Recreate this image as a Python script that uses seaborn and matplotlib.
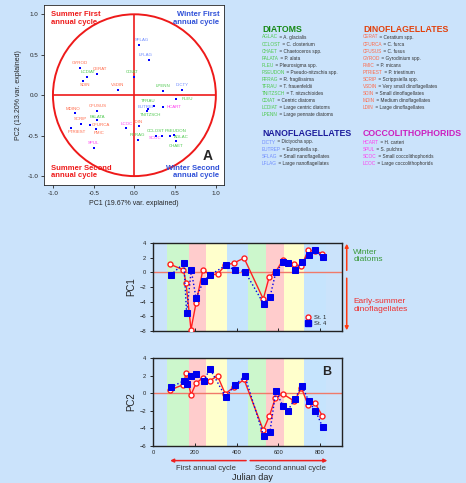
import matplotlib
matplotlib.use("Agg")
import matplotlib.pyplot as plt
from matplotlib.patches import Circle
from matplotlib.lines import Line2D
import pandas as pd
import seaborn as sns

# Panel A: species loadings on PC1 / PC2
species = ["SFLAG", "LFLAG", "GYROD", "CERAT", "LCDIAT", "CDIAT", "SDIN", "VSDIN", "LPENN", "DICTY",
           "PLEU", "CFUSUS", "MDINO", "TFRAU", "EUTREP", "HCART", "TNITZSCH", "PALATA", "SCRIP",
           "CFURCA", "PTRIEST", "PMIC", "LCOC", "LDIN", "RFRAG", "CCLOST", "SCOC", "PSEUDON",
           "AGLAC", "CHAET", "SPUL"]
pc1_load = [0.06, 0.18, -0.67, -0.46, -0.58, 0.0, -0.63, -0.20, 0.345, 0.59,
            0.51, -0.46, -0.73, 0.24, 0.17, 0.35, 0.156, -0.46, -0.66,
            -0.54, -0.78, -0.475, -0.10, 0.06, 0.05, 0.26, 0.34, 0.44,
            0.49, 0.51, -0.49]
pc2_load = [0.62, 0.43, 0.34, 0.26, 0.22, 0.23, 0.17, 0.06, 0.056, 0.07,
            -0.047, -0.19, -0.22, -0.134, -0.17, -0.14, -0.19, -0.31, -0.36,
            -0.365, -0.40, -0.42, -0.41, -0.385, -0.55, -0.50, -0.51, -0.50,
            -0.49, -0.56, -0.65]
groups = ["nano", "nano", "dino", "dino", "diat", "diat", "dino", "dino", "diat", "nano",
          "diat", "dino", "dino", "diat", "nano", "cocco", "diat", "diat", "dino",
          "dino", "dino", "dino", "cocco", "dino", "diat", "diat", "cocco", "diat",
          "diat", "diat", "cocco"]

# Panel B: sample scores through time
days_st1 = [82, 146, 158, 182, 206, 239, 272, 309, 346, 389, 436, 528, 557, 586, 621, 677, 711, 743, 776, 811]
pc1_st1 = [1.1, 0.33, -1.46, -7.8, -4.2, 0.37, -0.35, -0.25, 0.95, 1.3, 1.95, -3.64, -0.58, 0.0,
           1.64, 1.09, 0.87, 3.0, 2.9, 2.55]
pc2_st1 = [0.36, 0.98, 2.29, -0.18, 1.13, 1.75, 1.42, 1.96, -0.07, 0.73, 1.56, -4.2, -2.6, -0.55,
           -0.07, -0.9, 0.6, -1.38, -1.13, -2.58]
days_st4 = [85, 148, 161, 183, 206, 242, 273, 349, 391, 440, 530, 560, 588, 622, 645, 680, 713, 746, 778, 813]
pc1_st4 = [-0.36, 1.23, -5.6, 0.31, -3.5, -1.2, -0.38, 0.96, 0.3, 0.11, -4.3, -3.37, 0.0, 1.35,
           1.25, 0.33, 1.43, 2.31, 3.0, 2.03]
pc2_st4 = [0.65, 1.42, 1.05, 2.0, 2.22, 1.38, 2.76, -0.47, 0.91, 1.93, -4.87, -4.4, 0.22, -1.42,
           -2.0, -0.62, 0.87, -0.91, -2.0, -3.89]

# seasons shading (julian day limits)
season_edges = [68, 172, 255, 354, 457, 541, 625, 725, 826]
season_names = ["spring", "summer", "autumn", "winter", "spring", "summer", "autumn", "winter"]

# key texts
diat_codes = ["AGLAC", "CCLOST", "CHAET", "PALATA", "PLEU", "PSEUDON", "RFRAG", "TFRAU", "TNITZSCH",
              "CDIAT", "LCDIAT", "LPENN"]
diat_names = ["A. glacialis", "C. closterium", "Chaetoceros spp.", "P. alata", "Pleurosigma spp.",
              "Pseudo-nitzschia spp.", "R. fragilissima", "T. frauenfeldii", "T. nitzschioides",
              "Centric diatoms", "Large centric diatoms", "Large pennate diatoms"]
dino_codes = ["CERAT", "CFURCA", "CFUSUS", "GYROD", "PMIC", "PTRIEST", "SCRIP", "VSDIN", "SDIN",
              "MDIN", "LDIN"]
dino_names = ["Ceratium spp.", "C. furca", "C. fusus", "Gyrodinium spp.", "P. micans",
              "P. triestinum", "Scrippsiella spp.", "Very small dinoflagellates",
              "Small dinoflagellates", "Medium dinoflagellates", "Large dinoflagellates"]
nano_codes = ["DICTY", "EUTREP", "SFLAG", "LFLAG"]
nano_names = ["Dictyocha spp.", "Eutreptiella sp.", "Small nanoflagellates", "Large nanoflagellates"]
cocco_codes = ["HCART", "SPUL", "SCOC", "LCOC"]
cocco_names = ["H. carteri", "S. pulchra", "Small coccolithophorids", "Large coccolithophorids"]

# styling
bg = "#cbe3fb"
code_col = {"diat": "#4fc94f", "dino": "#ff6a4a", "nano": "#6f8cff", "cocco": "#ff3cf0"}
head_col = {"diat": "#178a17", "dino": "#e2410c", "nano": "#1c1c9c", "cocco": "#cc1fbf"}
season_col = {"winter": "#c6e4fd", "spring": "#ccf7cc", "summer": "#ffcccc", "autumn": "#ffffcc"}
red = "#ee1a1a"
blue = "#2f50d8"

# label offsets in pixels (dx, dy) from each point
label_off = {"SFLAG": (3, 5), "LFLAG": (-4, 5), "GYROD": (0, 5), "CERAT": (3, 5), "LCDIAT": (1, 5),
             "CDIAT": (-2, 5), "SDIN": (2, -4), "VSDIN": (0, 5), "LPENN": (0, 5), "DICTY": (0, 4.5),
             "PLEU": (11, 0), "CFUSUS": (1, 5), "MDINO": (-2, 4.5), "TFRAU": (-6, 5),
             "EUTREP": (-2, 2), "HCART": (11, 0), "TNITZSCH": (3, -4), "PALATA": (0, 3.5),
             "SCRIP": (0, 5), "CFURCA": (10, 0), "PTRIEST": (6, -4.5), "PMIC": (3, -3.5),
             "LCOC": (0, 4), "LDIN": (-2, 4.5), "RFRAG": (-1, 4.5), "CCLOST": (0, 4.5),
             "SCOC": (-7, -2), "PSEUDON": (5, 4.5), "AGLAC": (7, -2), "CHAET": (0, -5),
             "SPUL": (-1, 4.5)}

sns.set_style("ticks")
plt.rcParams["font.family"] = ["Liberation Sans", "DejaVu Sans"]

W, H = 466, 483
fig = plt.figure(figsize=(W / 100, H / 100), dpi=100, facecolor=bg)


def box(l, t, r, b):
    return [l / W, 1 - b / H, (r - l) / W, (b - t) / H]


# overlay in pixel coordinates for the species key
ax_t = fig.add_axes([0, 0, 1, 1])
ax_t.set_xlim(0, W)
ax_t.set_ylim(H, 0)
ax_t.axis("off")


def key_block(x, y, title, grp, codes, names, step=7.05):
    ax_t.text(x, y, title, color=head_col[grp], fontsize=6.3, fontweight="bold", va="center", ha="left")
    for i, (c, n) in enumerate(zip(codes, names)):
        t = ax_t.text(x, y + 8 + i * step, c, color=code_col[grp], fontsize=3.4, va="center", ha="left")
        ax_t.annotate(" = " + n, xy=(1, 0), xycoords=t, va="bottom", ha="left",
                      fontsize=3.4, color="#333333")


key_block(262, 29, "DIATOMS", "diat", diat_codes, diat_names)
key_block(363, 29, "DINOFLAGELLATES", "dino", dino_codes, dino_names)
key_block(262, 134, "NANOFLAGELLATES", "nano", nano_codes, nano_names)
key_block(363, 134, "COCCOLITHOPHORIDS", "cocco", cocco_codes, cocco_names)

# ---- Panel A: correlation circle
df_a = pd.DataFrame({"code": species, "pc1": pc1_load, "pc2": pc2_load, "group": groups})
ax0 = fig.add_axes(box(44, 5, 224, 185))
ax0.set_facecolor("white")
ax0.add_patch(Circle((0, 0), 1, fill=False, ec=red, lw=1.4, zorder=2))
ax0.hlines(0, -1, 1, color=red, lw=1.2, zorder=2)
ax0.vlines(0, -1, 1, color=red, lw=1.2, zorder=2)
sns.scatterplot(data=df_a, x="pc1", y="pc2", marker="s", color="#0000ff", s=4, linewidth=0,
                ax=ax0, zorder=4)
for _, r in df_a.iterrows():
    dx, dy = label_off[r["code"]]
    ax0.annotate(r["code"], (r["pc1"], r["pc2"]), xytext=(dx, dy), textcoords="offset pixels",
                 ha="center", va="center", fontsize=3.2, color=code_col[r["group"]], zorder=3)
ax0.set_xlim(-1.11, 1.1)
ax0.set_ylim(-1.11, 1.115)
ticks = [-1.0, -0.5, 0.0, 0.5, 1.0]
ax0.set_xticks(ticks)
ax0.set_yticks(ticks)
ax0.set_xticklabels([f"{v:.1f}" for v in ticks])
ax0.set_yticklabels([f"{v:.1f}" for v in ticks])
ax0.tick_params(labelsize=4.5, length=2, width=0.6, pad=2)
for s in ax0.spines.values():
    s.set_linewidth(0.6)
ax0.set_xlabel("PC1 (19.67% var. explained)", fontsize=5, labelpad=3)
ax0.set_ylabel("PC2 (13.20% var. explained)", fontsize=5, labelpad=4)
q = dict(fontsize=5.5, fontweight="bold", linespacing=1.05)
ax0.text(0.04, 0.965, "Summer First\nannual cycle", transform=ax0.transAxes, color=red, va="top", ha="left", **q)
ax0.text(0.975, 0.965, "Winter First\nannual cycle", transform=ax0.transAxes, color=blue, va="top", ha="right", **q)
ax0.text(0.04, 0.11, "Summer Second\nannual cycle", transform=ax0.transAxes, color=red, va="top", ha="left", **q)
ax0.text(0.975, 0.11, "Winter Second\nannual cycle", transform=ax0.transAxes, color=blue, va="top", ha="right", **q)
ax0.text(0.91, 0.16, "A", transform=ax0.transAxes, fontsize=10, fontweight="bold", ha="center", va="center")

# ---- Panel B: time series
df1 = pd.DataFrame({"day": days_st1, "PC1": pc1_st1, "PC2": pc2_st1})
df4 = pd.DataFrame({"day": days_st4, "PC1": pc1_st4, "PC2": pc2_st4})

ax1 = fig.add_axes(box(153, 243, 342, 331))
ax2 = fig.add_axes(box(153, 358, 342, 446))
for ax, col, ylim in [(ax1, "PC1", (-8, 4)), (ax2, "PC2", (-6, 4))]:
    ax.set_facecolor(bg)
    for i, name in enumerate(season_names):
        ax.axvspan(season_edges[i], season_edges[i + 1], color=season_col[name], lw=0, zorder=0)
    ax.axhline(0, color="#f07a6a", lw=1.0, zorder=1)
    sns.lineplot(data=df1, x="day", y=col, ax=ax, color="#ff2020", lw=1.0, marker="o",
                 markersize=3.6, markerfacecolor="white", markeredgecolor="#ff2020",
                 markeredgewidth=1.0, zorder=3)
    sns.lineplot(data=df4, x="day", y=col, ax=ax, color="#0000ee", lw=1.0, linestyle=":",
                 marker="s", markersize=4.6, markerfacecolor="#0000ee", markeredgecolor="#0000ee",
                 zorder=4)
    ax.set_xlim(0, 905)
    ax.set_ylim(*ylim)
    ax.set_yticks(range(ylim[0], ylim[1] + 1, 2))
    ax.set_xticks([0, 200, 400, 600, 800])
    ax.set_ylabel(col, fontsize=7, labelpad=2)
    ax.set_xlabel("")
    ax.tick_params(axis="y", labelsize=4.2, length=2, width=0.7, pad=3)
    ax.tick_params(axis="x", direction="in", labelsize=4.2, length=2, width=0.7, pad=3)
    for s in ax.spines.values():
        s.set_linewidth(1.0)
        s.set_color("#222222")

ax1.set_xticklabels([])
ax2.text(0.92, 0.84, "B", transform=ax2.transAxes, fontsize=9, fontweight="bold", ha="center", va="center")

handles = [Line2D([], [], ls="none", marker="o", ms=3.6, mfc="white", mec="#ff2020", mew=1.0),
           Line2D([], [], ls="none", marker="s", ms=4.0, mfc="#0000ee", mec="#0000ee")]
ax1.legend(handles, ["St. 1", "St. 4"], loc="lower right", bbox_to_anchor=(0.94, 0.0), frameon=False,
           fontsize=4.2, handlelength=0.8, handletextpad=0.5, labelspacing=0.25, borderpad=0.3)

# arrows right of PC1
arr = dict(arrowstyle="-|>", color="#ff3a10", lw=1.1, mutation_scale=5, shrinkA=0, shrinkB=0)
ax1.annotate("", xy=(1.025, 3.9), xytext=(1.025, 0.27), xycoords=("axes fraction", "data"),
             arrowprops=arr, annotation_clip=False)
ax1.annotate("", xy=(1.025, -7.9), xytext=(1.025, -0.8), xycoords=("axes fraction", "data"),
             arrowprops=arr, annotation_clip=False)
ax1.text(1.06, 2.2, "Winter\ndiatoms", transform=ax1.get_yaxis_transform(), color="#3b9a3b",
         fontsize=6, va="center", ha="left", linespacing=1.1)
ax1.text(1.06, -4.5, "Early-summer\ndinoflagellates", transform=ax1.get_yaxis_transform(),
         color="#ee3030", fontsize=6, va="center", ha="left", linespacing=1.1)

# annual cycle arrows under PC2
arr2 = dict(arrowstyle="-|>", color="#ee2020", lw=1.1, mutation_scale=5, shrinkA=0, shrinkB=0)
ax2.annotate("", xy=(82, -0.166), xytext=(446, -0.166), xycoords=("data", "axes fraction"),
             arrowprops=arr2, annotation_clip=False)
ax2.annotate("", xy=(835, -0.166), xytext=(465, -0.166), xycoords=("data", "axes fraction"),
             arrowprops=arr2, annotation_clip=False)
ax2.text(255, -0.25, "First annual cycle", transform=ax2.get_xaxis_transform(), fontsize=5.5,
         ha="center", va="center", color="#333333")
ax2.text(660, -0.25, "Second annual cycle", transform=ax2.get_xaxis_transform(), fontsize=5.5,
         ha="center", va="center", color="#333333")
fig.text(252 / W, 1 - 482 / H, "Julian day", fontsize=6.5, ha="center", va="bottom", color="#222222")

fig.savefig("out.png", dpi=100, facecolor=bg)
